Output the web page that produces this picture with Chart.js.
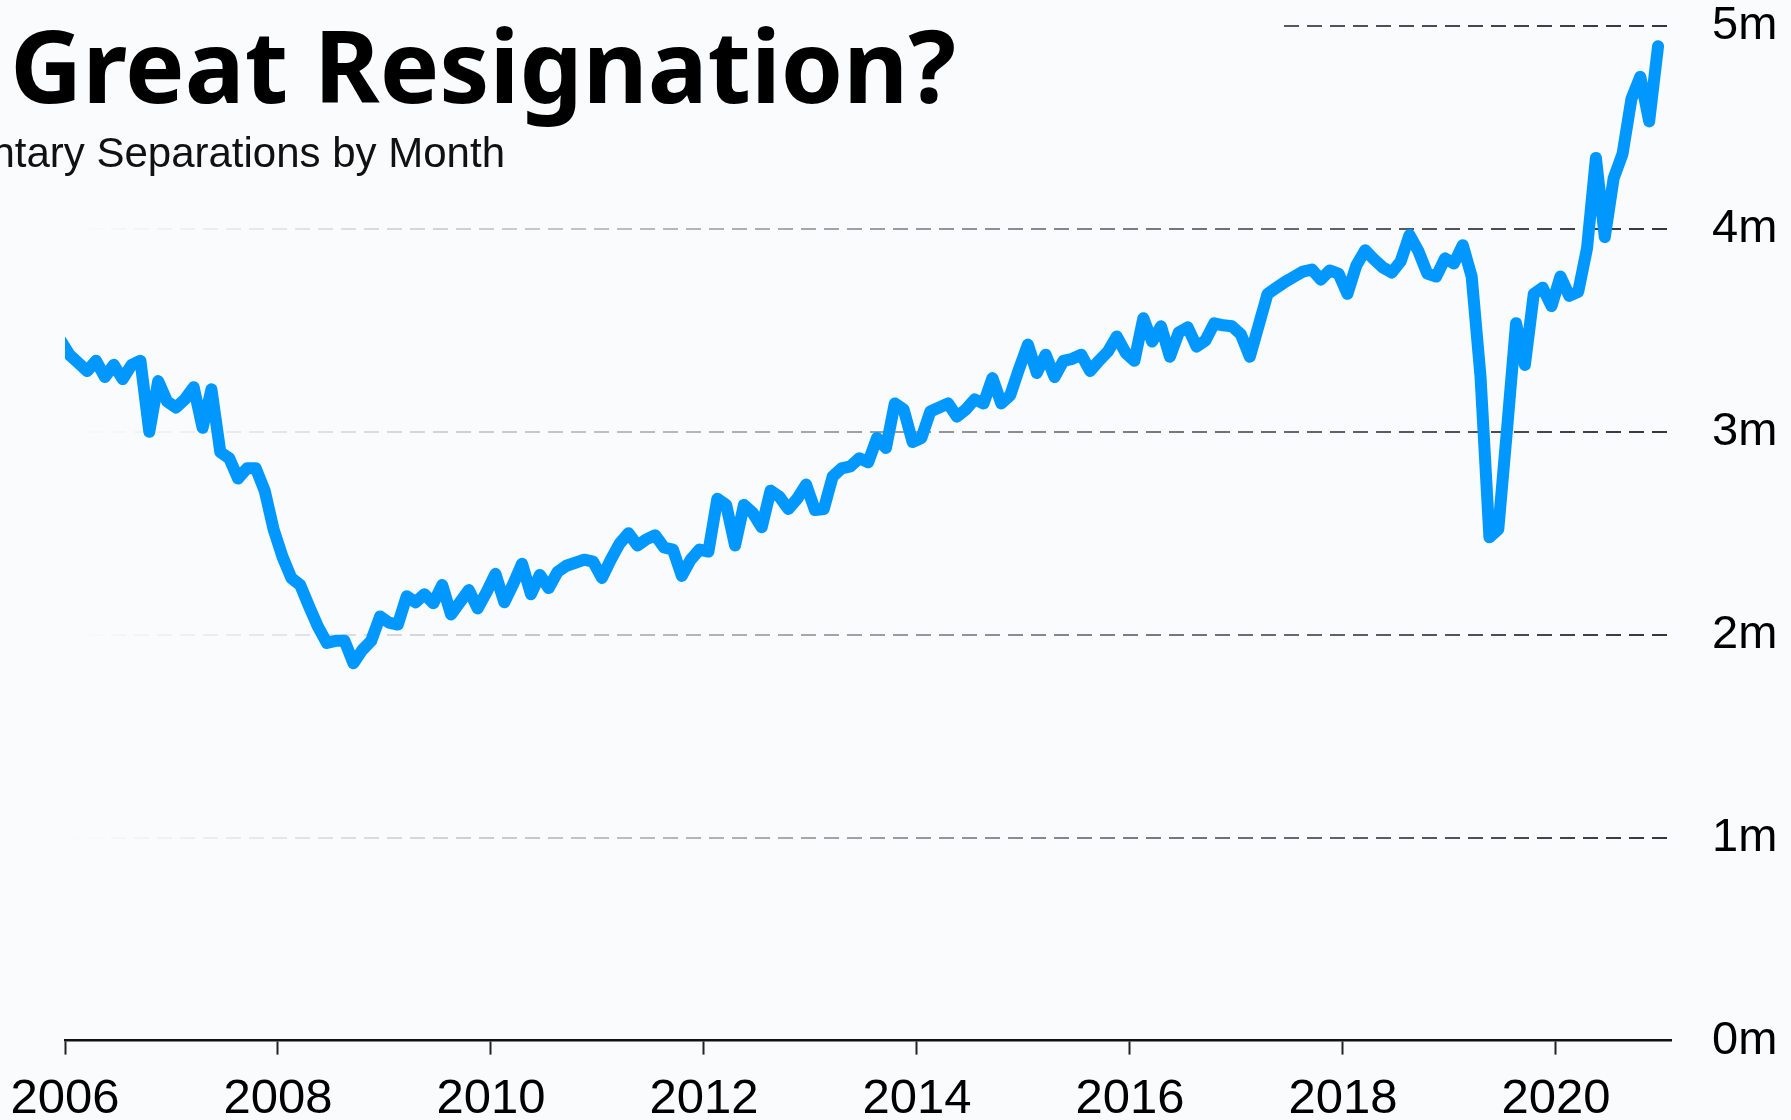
<!DOCTYPE html>
<html>
<head>
<meta charset="utf-8">
<title>The Great Resignation?</title>
<script src="https://cdn.jsdelivr.net/npm/chart.js@4.4.0/dist/chart.umd.min.js"></script>
<style>
  html, body { margin: 0; padding: 0; background: #fafbfc; overflow: hidden; }
  canvas { display: block; }
</style>
</head>
<body>
<canvas id="graficoRenuncias" width="1791" height="1120"></canvas>
<script>
// 1. Datos: separaciones voluntarias por mes (millones), desde dic-2005
const primerMes = { anio: 2005, mes: 12 };
const separaciones = [
  3.45,
  3.38, 3.34, 3.30, 3.35, 3.27, 3.33, 3.26, 3.33, 3.35, 3.00, 3.25, 3.15,        // 2006
  3.12, 3.16, 3.22, 3.02, 3.21, 2.90, 2.87, 2.77, 2.82, 2.82, 2.71, 2.52,        // 2007
  2.385, 2.28, 2.245, 2.14, 2.04, 1.96, 1.97, 1.97, 1.86, 1.925, 1.97, 2.09,    // 2008
  2.06, 2.05, 2.19, 2.16, 2.20, 2.155, 2.245, 2.10, 2.16, 2.22, 2.13, 2.21,     // 2009
  2.30, 2.16, 2.25, 2.35, 2.20, 2.295, 2.23, 2.31, 2.34, 2.355, 2.37, 2.36,     // 2010
  2.28, 2.37, 2.45, 2.50, 2.44, 2.47, 2.49, 2.43, 2.42, 2.29, 2.37, 2.42,       // 2011
  2.41, 2.67, 2.64, 2.44, 2.64, 2.60, 2.53, 2.71, 2.68, 2.62, 2.67, 2.74,       // 2012
  2.615, 2.62, 2.78, 2.82, 2.83, 2.87, 2.85, 2.97, 2.92, 3.14, 3.11, 2.95,      // 2013
  2.97, 3.10, 3.12, 3.14, 3.075, 3.11, 3.16, 3.14, 3.265, 3.14, 3.18, 3.31,     // 2014
  3.43, 3.29, 3.38, 3.27, 3.35, 3.36, 3.38, 3.30, 3.35, 3.395, 3.47, 3.39,      // 2015
  3.35, 3.56, 3.445, 3.52, 3.37, 3.49, 3.515, 3.42, 3.45, 3.535, 3.525, 3.52,   // 2016
  3.48, 3.37, 3.525, 3.68, 3.71, 3.74, 3.765, 3.79, 3.80, 3.75, 3.795, 3.78,    // 2017
  3.68, 3.82, 3.895, 3.85, 3.81, 3.785, 3.84, 3.97, 3.89, 3.78, 3.765, 3.855,   // 2018
  3.83, 3.92, 3.765, 3.27, 2.48, 2.52, 3.02, 3.535, 3.33, 3.68, 3.71, 3.62,     // 2019
  3.765, 3.67, 3.69, 3.905, 4.35, 3.96, 4.25, 4.37, 4.64, 4.75, 4.53, 4.90      // 2020
];
const aniosEje = [2006, 2008, 2010, 2012, 2014, 2016, 2018, 2020];
const valoresY = [0, 1, 2, 3, 4, 5];
const etiquetasY = ['0m', '1m', '2m', '3m', '4m', '5m'];

const tituloTexto = 'The Great Resignation?';
const subtituloTexto = 'Voluntary Separations by Month';

// cada mes se dibuja a mitad de mes
const puntos = separaciones.map((v, i) => ({
  x: primerMes.anio + (primerMes.mes - 1 + i + 0.5) / 12,
  y: v
}));

// 2. Degradado de las lineas de la rejilla (casi invisibles a la izquierda)
function alfaEn(t) {
  return Math.min(0.95, 0.95 * Math.pow(t, 1.1));
}
function degradadoRejilla(ctx) {
  const chart = ctx.chart;
  const area = chart.chartArea;
  if (!area || !ctx.tick) return 'rgba(0,0,0,0)';
  if (ctx.tick.value === 0) return 'rgba(0,0,0,0)';
  const g = chart.ctx.createLinearGradient(area.left, 0, area.right, 0);
  const col = a => 'rgba(40,44,48,' + a.toFixed(3) + ')';
  if (ctx.tick.value === 5) {
    // la linea de 5m queda tapada por el titulo hasta aqui
    const corte = (1276 - area.left) / (area.right - area.left);
    g.addColorStop(0, col(0));
    g.addColorStop(corte, col(0));
    g.addColorStop(corte + 0.001, col(0.78));
    g.addColorStop(1, col(0.95));
    return g;
  }
  for (let k = 0; k <= 10; k++) {
    g.addColorStop(k / 10, col(alfaEn(k / 10)));
  }
  return g;
}

// 3. Fondo y titulos
const pluginTitulos = {
  id: 'titulos',
  beforeDraw(chart) {
    const c = chart.ctx;
    c.save();
    c.fillStyle = '#fafbfc';
    c.fillRect(0, 0, chart.width, chart.height);
    c.restore();
  },
  afterDraw(chart) {
    const c = chart.ctx;
    c.save();
    c.fillStyle = '#000';
    c.textBaseline = 'alphabetic';
    c.font = '700 101px "Noto Sans", "Open Sans", sans-serif';
    const oculto = 'The ';
    const anchoVisible = c.measureText(tituloTexto.slice(oculto.length)).width;
    const sx = Math.max(0.8, Math.min(1.2, 946 / anchoVisible));
    c.translate(10, 103);
    c.scale(sx, 1);
    c.fillText(tituloTexto, -c.measureText(oculto).width, 0);
    c.restore();

    c.save();
    c.fillStyle = '#111';
    c.textBaseline = 'alphabetic';
    c.textAlign = 'right';
    c.font = '42px "Liberation Sans", Arial, sans-serif';
    c.fillText(subtituloTexto, 505, 167);
    c.restore();
  }
};

// 4. Configuracion del grafico
const fuenteEjes = '"Liberation Sans", Arial, sans-serif';
const configuracion = {
  type: 'line',
  data: {
    datasets: [{
      label: subtituloTexto,
      data: puntos,
      borderColor: '#0098ff',
      borderWidth: 12,
      pointRadius: 0,
      tension: 0,
      fill: false,
      borderJoinStyle: 'round',
      borderCapStyle: 'round',
      clip: 0
    }]
  },
  options: {
    responsive: false,
    animation: false,
    events: [],
    layout: { padding: { left: 65, top: 26, right: 0, bottom: 0 } },
    plugins: {
      legend: { display: false },
      tooltip: { enabled: false },
      title: { display: false }
    },
    scales: {
      x: {
        type: 'linear',
        min: 2006,
        max: 2021.08,
        afterFit: s => {
          s.height = 79.4;
          s.paddingLeft = 0;
          s.paddingRight = 0;
        },
        afterBuildTicks: s => { s.ticks = aniosEje.map(v => ({ value: v })); },
        ticks: {
          callback: v => String(v),
          color: '#000',
          font: { family: fuenteEjes, size: 49 },
          padding: 15,
          maxRotation: 0,
          autoSkip: false
        },
        grid: {
          drawOnChartArea: false,
          drawTicks: true,
          tickLength: 14,
          tickWidth: 2,
          tickColor: '#222',
          color: '#222'
        },
        border: { display: true, color: '#111', width: 2.5 }
      },
      y: {
        position: 'right',
        min: 0,
        max: 5,
        afterFit: s => {
          s.width = 120;
          // sin margen extra arriba/abajo por las etiquetas
          s.paddingTop = 0;
          s.paddingBottom = 0;
        },
        afterBuildTicks: s => { s.ticks = valoresY.map(v => ({ value: v })); },
        ticks: {
          callback: v => etiquetasY[valoresY.indexOf(v)],
          color: '#000',
          font: { family: fuenteEjes, size: 47, lineHeight: 1 },
          padding: 41,
          crossAlign: 'near'
        },
        grid: {
          drawTicks: false,
          lineWidth: 2,
          color: degradadoRejilla
        },
        border: { display: false, dash: [15, 8] }
      }
    }
  },
  plugins: [pluginTitulos]
};

// 5. Dibujar
function mostrarGrafico() {
  const ctx = document.getElementById('graficoRenuncias').getContext('2d');
  new Chart(ctx, configuracion);
}
document.addEventListener('DOMContentLoaded', mostrarGrafico);
</script>
</body>
</html>
